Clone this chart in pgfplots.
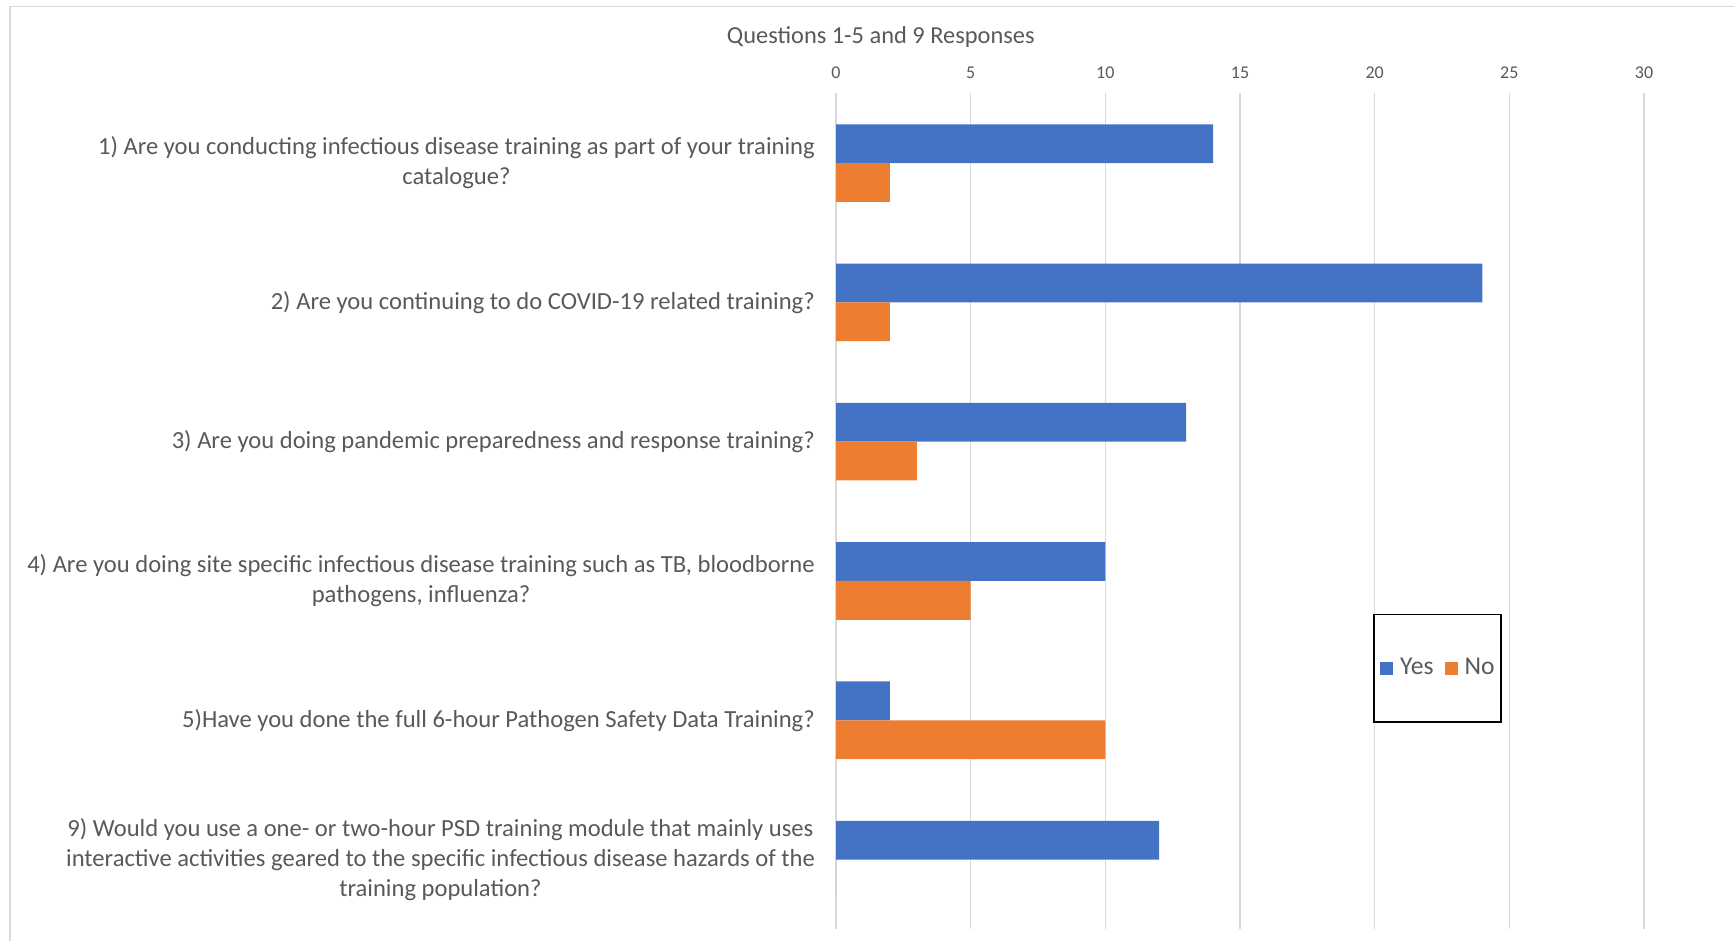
\documentclass[border=0pt]{standalone}
\usepackage{pgfplots}
\pgfplotsset{compat=1.18}
\usepackage{fontspec}
\setmainfont{Carlito}
\definecolor{yesblue}{HTML}{4472C4}
\definecolor{noorange}{HTML}{ED7D31}
\definecolor{txt}{HTML}{595959}
\definecolor{gridc}{HTML}{D9D9D9}
\begin{document}
\begin{tikzpicture}
\useasboundingbox (0pt,0pt) rectangle (867pt,470.5pt);
\draw[gridc, line width=0.9pt] (4.9pt,0pt) -- (4.9pt,467.25pt) -- (867pt,467.25pt);
\begin{axis}[
  at={(418pt,5.9pt)}, anchor=south west,
  scale only axis, width=404pt, height=417.9pt,
  xbar, bar width=19.4pt,
  xmin=0, xmax=30, ymin=-0.5, ymax=5.5,
  y dir=reverse,
  axis line style={draw=none},
  major tick length=0pt,
  xtick={0,5,...,30},
  xticklabel pos=upper,
  xmajorgrids, grid style={gridc, line width=0.7pt},
  /pgf/number format/assume math mode=true,
  xticklabel style={font=\fontsize{9}{11}\selectfont, text=txt, inner sep=0pt, anchor=south, yshift=7.2pt},
  ytick={0,1,2,3,4,5},
  yticklabels={
    {1) Are you conducting infectious disease training as part of your training\\catalogue?},
    {2) Are you continuing to do COVID-19 related training?},
    {3) Are you doing pandemic preparedness and response training?},
    {4) Are you doing site specific infectious disease training such as TB, bloodborne\\pathogens, influenza?},
    {5)Have you done the full 6-hour Pathogen Safety Data Training?},
    {9) Would you use a one- or two-hour PSD training module that mainly uses\\interactive activities geared to the specific infectious disease hazards of the\\training population?}
  },
  yticklabel style={font=\fontsize{12.3}{15}\selectfont, text=txt, align=center, anchor=east, inner sep=0pt, xshift=-10.4pt},
  title={Questions 1-5 and 9 Responses},
  title style={font=\fontsize{12.2}{15}\selectfont, text=txt, at={(axis description cs:0.0554,1.0528)}, anchor=center, yshift=0pt},
  legend columns=2,
  legend image code/.code={\fill[#1] (0pt,-3.25pt) rectangle (6.5pt,3.25pt);},
  legend style={at={(axis description cs:0.7444,0.3125)}, anchor=center,
    draw=black, line width=0.8pt, inner xsep=3.2pt, inner ysep=22pt,
    font=\fontsize{12.8}{15}\selectfont, text=txt,
    nodes={inner sep=0pt},
    column sep=2.2pt,
    /tikz/every even column/.append style={column sep=5.6pt},
    /tikz/every odd column/.append style={column sep=3.4pt}},
]
\addplot[fill=yesblue, draw=none, bar shift=9.7pt] coordinates {(14,0) (24,1) (13,2) (10,3) (2,4) (12,5)};
\addplot[fill=noorange, draw=none, bar shift=-9.7pt] coordinates {(2,0) (2,1) (3,2) (5,3) (10,4) (0,5)};
\legend{Yes,No}
\end{axis}
\end{tikzpicture}
\end{document}
